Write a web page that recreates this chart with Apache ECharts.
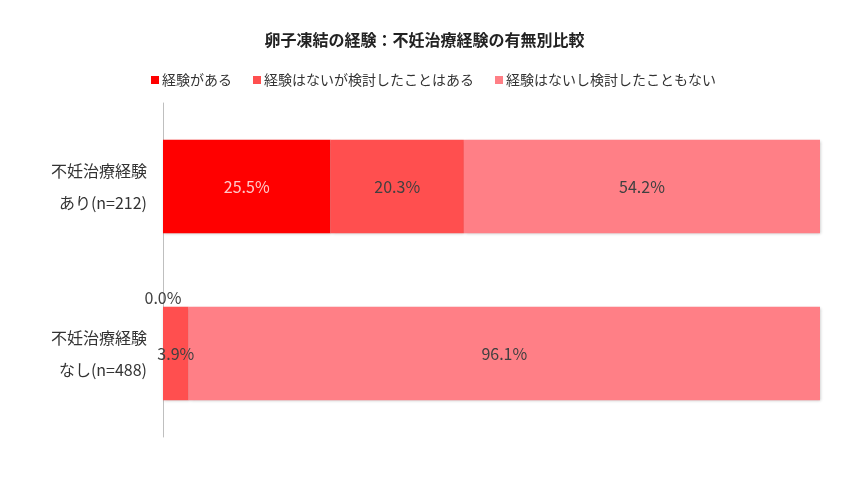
<!DOCTYPE html>
<html><head><meta charset="utf-8">
<script src="https://cdn.jsdelivr.net/npm/echarts@6/dist/echarts.min.js"></script>
<style>html,body{margin:0;padding:0;background:#fff}#c{width:849px;height:479px}</style>
</head><body><div id="c"></div>
<script>
const categories = ['不妊治療経験\nあり(n=212)', '不妊治療経験\nなし(n=488)'];
const seriesNames = ['経験がある', '経験はないが検討したことはある', '経験はないし検討したこともない'];
const s1 = [25.5, 0.0];
const s2 = [20.3, 3.9];
const s3 = [54.2, 96.1];
const colors = ['#FF0000', '#FF4F4F', '#FF7F86'];
const labelColors = ['#FFC8C8', '#404040', '#404040'];
const font = '"Noto Sans CJK JP", "Noto Sans", sans-serif';

function mk(name, data, idx) {
  return {
    name: name, type: 'bar', stack: 'a', barWidth: '56%',
    itemStyle: { color: colors[idx], shadowColor: 'rgba(0,0,0,0.25)', shadowBlur: 3, shadowOffsetX: 1, shadowOffsetY: 1 },
    label: { show: true, position: 'inside', color: labelColors[idx], fontSize: 16, fontFamily: font,
             formatter: p => p.value.toFixed(1) + '%' },
    data: data.map((v, i) => {
      if (v === 0) return { value: v, label: { position: 'top', distance: 1, color: '#404040' } };
      return v;
    })
  };
}

const chart = echarts.init(document.getElementById('c'));
chart.setOption({
  animation: false,
  title: { text: '卵子凍結の経験：不妊治療経験の有無別比較', left: 'center', top: 27,
    textStyle: { fontSize: 16, fontWeight: 'bold', color: '#222', fontFamily: font } },
  legend: { top: 68, left: 146, itemWidth: 8, itemHeight: 8, itemGap: 21,
    textStyle: { fontSize: 14, color: '#333', fontFamily: font, padding: [0,0,0,-2] },
    data: seriesNames.map(n => ({ name: n, icon: 'rect' })) },
  grid: { left: 163, right: 29, top: 103, bottom: 42 },
  xAxis: { type: 'value', min: 0, max: 100, show: false },
  yAxis: { type: 'category', inverse: true, data: categories,
    axisLine: { show: true, lineStyle: { color: '#BFBFBF', width: 1 } },
    axisTick: { show: false },
    axisLabel: { fontSize: 16, color: '#333', lineHeight: 32, fontFamily: font, margin: 16 } },
  series: [mk(seriesNames[0], s1, 0), mk(seriesNames[1], s2, 1), mk(seriesNames[2], s3, 2)]
});
</script></body></html>
